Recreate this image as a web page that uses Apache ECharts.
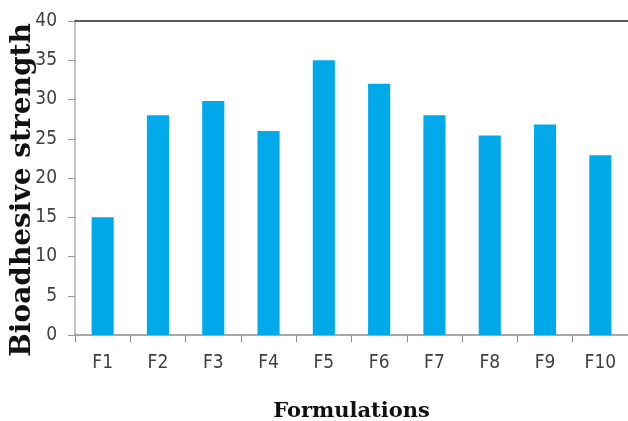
<!DOCTYPE html>
<html>
<head>
<meta charset="utf-8">
<script src="https://cdn.jsdelivr.net/npm/echarts@6/dist/echarts.min.js"></script>
<style>
  html, body { margin: 0; padding: 0; background: #fff; }
  #chart { width: 628px; height: 421px; }
</style>
</head>
<body>
<div id="chart"></div>
<script>
// Bioadhesive strength per formulation
const formulations = ['F1', 'F2', 'F3', 'F4', 'F5', 'F6', 'F7', 'F8', 'F9', 'F10'];
const strength = [15, 28, 29.8, 26, 35, 32, 28, 25.4, 26.8, 22.9];
const yTicks = { min: 0, max: 40, interval: 5 };

const labelFont = "'DejaVu Sans Condensed', 'Liberation Sans Narrow', 'Liberation Sans', sans-serif";
const titleFont = "'DejaVu Serif', serif";

const chart = echarts.init(document.getElementById('chart'), null, { renderer: 'canvas' });
chart.setOption({
  animation: false,
  backgroundColor: '#ffffff',
  grid: { left: 75, right: 0, top: 21, bottom: 86, outerBoundsMode: 'none', containLabel: false },
  xAxis: [
    {
      type: 'category',
      data: formulations,
      boundaryGap: true,
      axisLine: { lineStyle: { color: '#8c8c8c', width: 1.5 } },
      axisTick: { show: true, alignWithLabel: false, length: 7, lineStyle: { color: '#8c8c8c' } },
      axisLabel: { color: '#404040', fontSize: 19, fontFamily: labelFont, margin: 19 },
      name: 'Formulations',
      nameLocation: 'middle',
      nameGap: 66,
      nameTextStyle: { color: '#111', fontSize: 21, fontWeight: 'bold', fontFamily: titleFont }
    },
    {
      // closing line along the top of the plot area
      type: 'category',
      position: 'top',
      data: formulations,
      axisLine: { lineStyle: { color: '#5a5a5a', width: 2 } },
      axisTick: { show: false },
      axisLabel: { show: false }
    }
  ],
  yAxis: {
    type: 'value',
    min: yTicks.min,
    max: yTicks.max,
    interval: yTicks.interval,
    axisLine: { show: true, lineStyle: { color: '#b0b0b0', width: 1.5 } },
    axisTick: { show: true, length: 7, lineStyle: { color: '#9a9a9a' } },
    splitLine: { show: false },
    axisLabel: { color: '#404040', fontSize: 19, fontFamily: labelFont, margin: 18 }
  },
  graphic: [{
    type: 'text',
    x: 23,
    y: 190,
    rotation: Math.PI / 2,
    style: {
      text: 'Bioadhesive strength',
      fill: '#111',
      font: "bold 28px 'DejaVu Serif', serif",
      align: 'center',
      verticalAlign: 'middle'
    }
  }],
  series: [{
    type: 'bar',
    xAxisIndex: 0,
    data: strength,
    barWidth: '40%',
    itemStyle: { color: '#00aaea' }
  }]
});
</script>
</body>
</html>
